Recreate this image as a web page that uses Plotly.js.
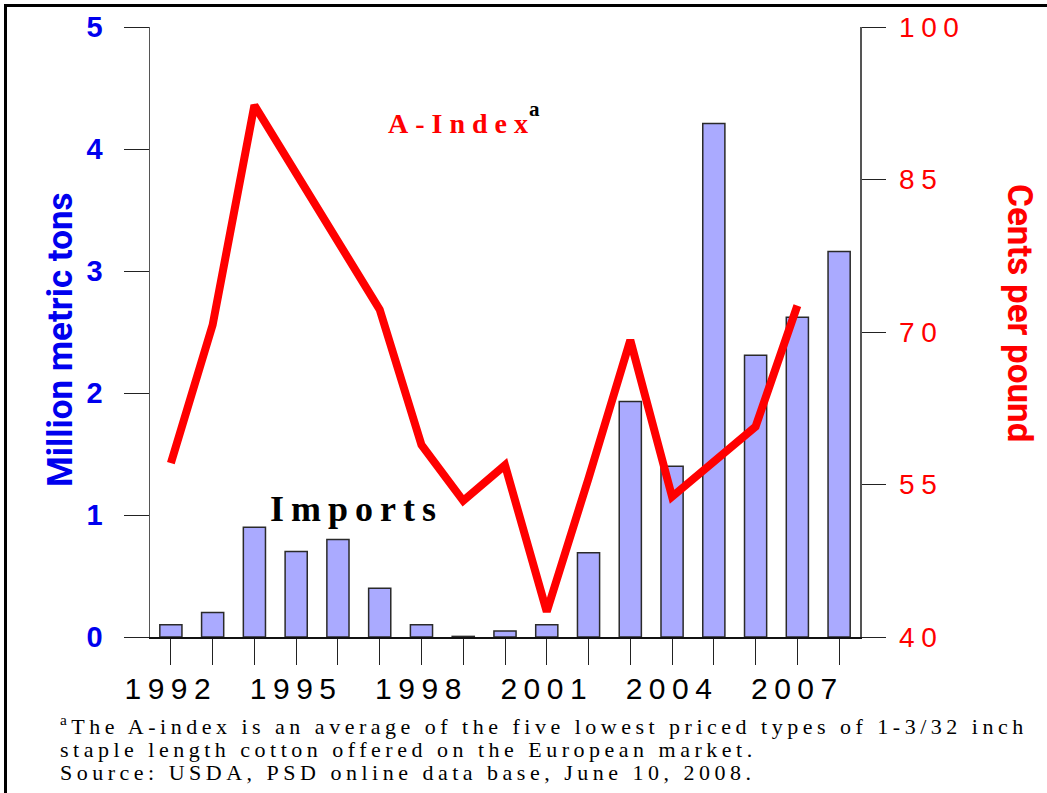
<!DOCTYPE html>
<html>
<head>
<meta charset="utf-8">
<script src="https://cdn.plot.ly/plotly-3.0.1.min.js"></script>
<style>
  html, body { margin: 0; padding: 0; background: #fff; }
  #chart { width: 1047px; height: 793px; }
  .xtick text { letter-spacing: 6.5px; }
  .y2tick text { letter-spacing: 6.5px; }
  .annotation[data-index="0"] text { letter-spacing: 7px; }
  .annotation[data-index="1"] text { letter-spacing: 7px; }
  .annotation[data-index="3"] text,
  .annotation[data-index="4"] text,
  .annotation[data-index="5"] text { letter-spacing: 4.5px; }
</style>
</head>
<body>
<div id="chart"></div>
<script>
// ---- data ----
const years = [1992, 1993, 1994, 1995, 1996, 1997, 1998, 1999, 2000, 2001, 2002, 2003, 2004, 2005, 2006, 2007, 2008];
const importsMMT = [0.1, 0.2, 0.9, 0.7, 0.8, 0.4, 0.1, 0.005, 0.05, 0.1, 0.69, 1.93, 1.40, 4.21, 2.31, 2.62, 3.16];
const aIndexYears = [1992, 1993, 1994, 1995, 1996, 1997, 1998, 1999, 2000, 2001, 2002, 2003, 2004, 2005, 2006, 2007];
const aIndexCents = [57.1, 70.7, 92.3, 85.6, 78.7, 72.2, 58.9, 53.4, 56.9, 42.5, 55.6, 69.2, 53.8, 57.2, 60.7, 72.6];
const xLabelYears = [1992, 1995, 1998, 2001, 2004, 2007];
const leftTicks = [0, 1, 2, 3, 4, 5];
const rightTicks = [40, 55, 70, 85, 100];

// ---- layout constants ----
const W = 1047, H = 793;
const M = {l: 150, r: 187, t: 27, b: 156};
const pw = W - M.l - M.r, ph = H - M.t - M.b;
const px2x = p => (p - M.l) / pw;
const py2y = p => (H - M.b - p) / ph;

const sans = "'Liberation Sans', Arial, sans-serif";
const cond = "Roboto, 'Liberation Sans', sans-serif";
const serif = "'Liberation Serif', 'Times New Roman', serif";

const traces = [
  {
    type: 'bar', x: years, y: importsMMT, yaxis: 'y', name: 'Imports',
    width: 0.53,
    marker: {color: '#aaaaff', line: {color: '#2a2a2a', width: 1.5}},
    hoverinfo: 'x+y'
  },
  {
    type: 'scatter', mode: 'lines', x: aIndexYears, y: aIndexCents, yaxis: 'y2', name: 'A-Index',
    line: {color: '#ff0000', width: 8}
  }
];

const layout = {
  width: W, height: H,
  margin: M,
  paper_bgcolor: '#fff', plot_bgcolor: 'rgba(0,0,0,0)',
  showlegend: false,
  xaxis: {
    range: [1991.5, 2008.5],
    tickmode: 'array', tickvals: xLabelYears,
    ticks: 'outside', ticklen: 26, tickwidth: 1, tickcolor: '#222',
    minor: {tickmode: 'array', tickvals: years, ticks: 'outside', ticklen: 26, tickwidth: 1, tickcolor: '#222', showgrid: false},
    showline: true, linecolor: '#111', linewidth: 1.5,
    showgrid: false, zeroline: false,
    tickfont: {family: sans, size: 30, color: '#000'},
    ticklabelstandoff: -2
  },
  yaxis: {
    range: [0, 5],
    tickmode: 'array', tickvals: leftTicks,
    ticks: 'outside', ticklen: 25, tickwidth: 1, tickcolor: '#222',
    showline: true, linecolor: '#555', linewidth: 1.5,
    showgrid: false, zeroline: false,
    tickfont: {family: sans, size: 29, color: '#0000ee', weight: 'bold'},
    ticklabelstandoff: 15
  },
  yaxis2: {
    range: [40, 100], overlaying: 'y', side: 'right',
    tickmode: 'array', tickvals: rightTicks,
    ticks: 'outside', ticklen: 24, tickwidth: 1, tickcolor: '#222',
    showline: true, linecolor: '#555', linewidth: 1.5,
    showgrid: false, zeroline: false,
    tickfont: {family: sans, size: 28, color: '#ff0000'},
    ticklabelstandoff: 8
  },
  annotations: [
    {text: "A-Index", xref: 'paper', yref: 'paper', align: 'left',
     x: px2x(386), y: py2y(123), xanchor: 'left', yanchor: 'middle', showarrow: false,
     font: {family: serif, size: 28, color: '#ff0000', weight: 'bold'}},
    {text: 'Imports', xref: 'paper', yref: 'paper', align: 'left',
     x: px2x(268), y: py2y(509), xanchor: 'left', yanchor: 'middle', showarrow: false,
     font: {family: serif, size: 36, color: '#000', weight: 'bold'}},
    {text: 'Cents per pound', xref: 'paper', yref: 'paper', textangle: 90,
     x: px2x(1020), y: py2y(313), xanchor: 'center', yanchor: 'middle', showarrow: false,
     font: {family: cond, size: 35, color: '#ff0000', weight: 'bold'}},
    {text: '<sup>a</sup>The A-index is an average of the five lowest priced types of 1-3/32 inch', xref: 'paper', yref: 'paper', align: 'left',
     x: px2x(58), y: py2y(725), xanchor: 'left', yanchor: 'middle', showarrow: false,
     font: {family: serif, size: 22, color: '#000'}},
    {text: 'staple length cotton offered on the European market.', xref: 'paper', yref: 'paper', align: 'left',
     x: px2x(58), y: py2y(749), xanchor: 'left', yanchor: 'middle', showarrow: false,
     font: {family: serif, size: 22, color: '#000'}},
    {text: 'Source: USDA, PSD online data base, June 10, 2008.', xref: 'paper', yref: 'paper', align: 'left',
     x: px2x(58), y: py2y(773), xanchor: 'left', yanchor: 'middle', showarrow: false,
     font: {family: serif, size: 22, color: '#000'}},
    {text: 'Million metric tons', xref: 'paper', yref: 'paper', textangle: -90,
     x: px2x(60), y: py2y(340), xanchor: 'center', yanchor: 'middle', showarrow: false,
     font: {family: cond, size: 35, color: '#0000ee', weight: 'bold'}},
    {text: 'a', xref: 'paper', yref: 'paper', align: 'left',
     x: px2x(527), y: py2y(109), xanchor: 'left', yanchor: 'middle', showarrow: false,
     font: {family: serif, size: 21, color: '#000', weight: 'bold'}}
  ],
  shapes: [
    {type: 'rect', xref: 'paper', yref: 'paper',
     x0: px2x(5.5), x1: px2x(1070), y0: py2y(820), y1: py2y(5.5),
     line: {color: '#000', width: 3}, fillcolor: 'rgba(0,0,0,0)', layer: 'above'}
  ]
};

Plotly.newPlot('chart', traces, layout, {displayModeBar: false, staticPlot: true});
</script>
</body>
</html>
